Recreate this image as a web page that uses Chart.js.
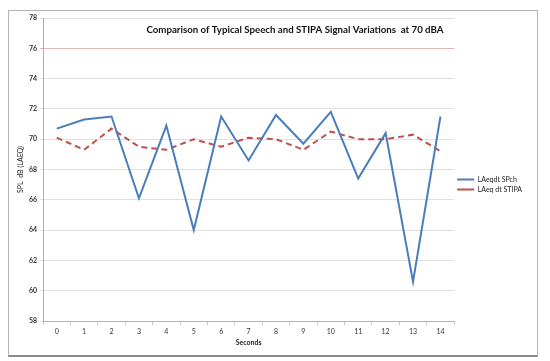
<!DOCTYPE html>
<html>
<head>
<meta charset="utf-8">
<script src="https://cdn.jsdelivr.net/npm/chart.js@4"></script>
<style>
  html, body { margin: 0; padding: 0; background: #fff; }
  #wrap { position: relative; width: 550px; height: 361px; }
  #frame {
    position: absolute; left: 8px; top: 10px; width: 528px; height: 344px;
    border: 1px solid #b4b4b4; border-bottom: 2px solid #8c8c8c;
  }
  canvas { position: absolute; left: 0; top: 0; }
</style>
</head>
<body>
<div id="wrap">
  <div id="frame"></div>
  <canvas id="myChart" width="550" height="361"></canvas>
</div>
<script>
// Data
const seconds = ["0", "1", "2", "3", "4", "5", "6", "7", "8", "9", "10", "11", "12", "13", "14"];
const speechLevels = [70.7, 71.3, 71.5, 66.1, 70.9, 64.0, 71.5, 68.6, 71.6, 69.7, 71.8, 67.4, 70.4, 60.6, 71.5];
const stipaLevels = [70.1, 69.3, 70.7, 69.5, 69.3, 70.0, 69.5, 70.1, 70.0, 69.3, 70.5, 70.0, 70.0, 70.3, 69.2];

const chartTitle = "Comparison of Typical Speech and STIPA Signal Variations  at 70 dBA";
const fontFamily = "Lato, 'Open Sans', sans-serif";

// Title sits inside the plot area, a bit right of centre
const titleInside = {
  id: "titleInside",
  afterDraw(chart) {
    const { ctx } = chart;
    ctx.save();
    ctx.font = "bold 9.7px " + fontFamily;
    ctx.fillStyle = "#111";
    ctx.textAlign = "center";
    ctx.textBaseline = "middle";
    ctx.fillText(chartTitle, 295, 30);
    ctx.restore();
  },
};

const ctx = document.getElementById("myChart");

new Chart(ctx, {
  type: "line",
  data: {
    labels: seconds,
    datasets: [
      {
        label: "LAeqdt SPch",
        data: speechLevels,
        borderColor: "#4a7ebb",
        backgroundColor: "#4a7ebb",
        borderWidth: 2,
        pointRadius: 0,
        tension: 0,
      },
      {
        label: "LAeq dt STIPA",
        data: stipaLevels,
        borderColor: "#c0504d",
        backgroundColor: "#c0504d",
        borderWidth: 2,
        borderDash: [6, 4],
        pointRadius: 0,
        tension: 0,
      },
    ],
  },
  options: {
    responsive: false,
    animation: false,
    layout: {
      padding: { top: 18, left: 8, right: 18, bottom: 10 },
    },
    plugins: {
      legend: {
        position: "right",
        labels: {
          font: { family: fontFamily, size: 7 },
          color: "#222",
          usePointStyle: true,
          pointStyle: "line",
          pointStyleWidth: 17,
          boxHeight: 7,
          padding: 3,
        },
      },
      tooltip: { enabled: false },
    },
    scales: {
      x: {
        afterFit: (scale) => { scale.height = 30; },
        offset: true,
        grid: {
          offset: true,
          drawOnChartArea: false,
          tickLength: 4,
          color: "#c8c8c8",
        },
        border: { color: "#b0b0b0" },
        ticks: {
          color: "#333",
          font: { family: fontFamily, size: 7 },
          padding: 3,
          maxRotation: 0,
        },
        title: {
          display: true,
          text: "Seconds",
          color: "#222",
          font: { family: fontFamily, size: 7, weight: "bold" },
          padding: { top: 2, bottom: 4 },
        },
      },
      y: {
        afterFit: (scale) => { scale.width = 35; },
        min: 58,
        max: 78,
        ticks: {
          stepSize: 2,
          color: "#333",
          font: { family: fontFamily, size: 7, weight: "bold" },
          padding: 3,
        },
        grid: {
          color: (c) => (c.tick && c.tick.value === 76 ? "#dbb9b9" : "#e4dfdf"),
          tickLength: 3,
        },
        border: { color: "#b0b0b0" },
        title: {
          display: true,
          text: "SPL  dB (LAEQ)",
          color: "#222",
          font: { family: fontFamily, size: 7 },
          padding: { top: 9, bottom: 2 },
        },
      },
    },
  },
  plugins: [titleInside],
});
</script>
</body>
</html>
